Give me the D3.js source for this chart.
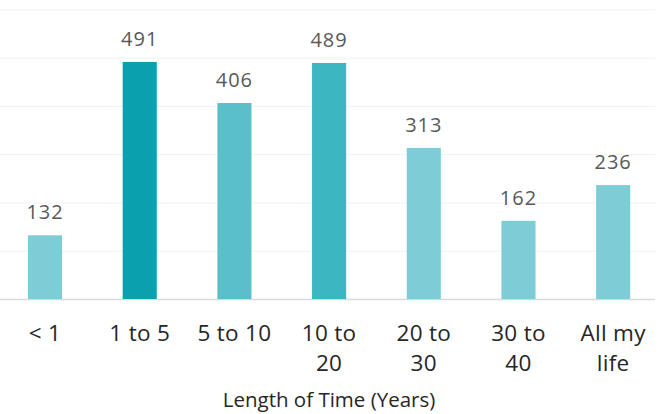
<!DOCTYPE html>
<html>
<head>
<meta charset="utf-8">
<script src="https://cdn.jsdelivr.net/npm/d3@7"></script>
<style>
  body { margin: 0; background: #fff; }
  text { font-family: "Open Sans", "Noto Sans", sans-serif; }
</style>
</head>
<body>
<svg id="chart"></svg>
<script>
// data
const categories = ["< 1", "1 to 5", "5 to 10", "10 to 20", "20 to 30", "30 to 40", "All my life"];
const counts = [132, 491, 406, 489, 313, 162, 236];
const yTicks = [0, 100, 200, 300, 400, 500, 600];
const xTitle = "Length of Time (Years)";

// one shade per bar, darker for the bigger ones
const barColors = ["#7dcdd6", "#0aa0ad", "#5bbfca", "#3cb6c0", "#7dcdd6", "#7dcdd6", "#7dcdd6"];

const width = 670, height = 414;
const plot = { left: 0, right: 655, top: 9.4, bottom: 299 };

const svg = d3.select("#chart").attr("width", width).attr("height", height);

const xScale = d3.scaleBand()
    .domain(categories)
    .range([-2.3, 660.5])
    .paddingInner(0.64)
    .paddingOuter(0.32);

const yScale = d3.scaleLinear()
    .domain([0, 600])
    .range([plot.bottom, plot.top]);

// gridlines
const grid = svg.append("g")
    .attr("transform", `translate(${plot.left},0)`)
    .call(d3.axisLeft(yScale).tickValues(yTicks).tickSize(-(plot.right - plot.left)).tickFormat(""));
grid.select(".domain").remove();
grid.selectAll(".tick line")
    .attr("stroke", d => d === 0 ? "#d9d9d9" : "#f1f1f1")
    .attr("stroke-width", d => d === 0 ? 1.5 : 1);

// bars
svg.append("g").selectAll("rect")
    .data(categories)
    .join("rect")
    .attr("x", d => xScale(d))
    .attr("y", (d, i) => yScale(counts[i]))
    .attr("width", xScale.bandwidth())
    .attr("height", (d, i) => yScale(0) - yScale(counts[i]))
    .attr("fill", (d, i) => barColors[i]);

// value labels
svg.append("g").selectAll("text")
    .data(categories)
    .join("text")
    .attr("x", d => xScale(d) + xScale.bandwidth() / 2)
    .attr("y", (d, i) => yScale(counts[i]) - 16)
    .attr("text-anchor", "middle")
    .style("font-size", "20px")
    .style("letter-spacing", "1px")
    .style("fill", "#595959")
    .text((d, i) => counts[i]);

// category axis
const xAxis = svg.append("g")
    .attr("transform", `translate(0,${plot.bottom})`)
    .call(d3.axisBottom(xScale).tickSize(0).tickPadding(0));
xAxis.select(".domain").remove();

xAxis.selectAll(".tick text")
    .style("font-size", "22.5px")
    .style("fill", "#262626")
    .style("letter-spacing", "0.3px")
    .each(function (d) {
        const t = d3.select(this);
        const words = d.split(" ");
        t.text(null);
        const lines = [];
        let cur = [];
        words.forEach(w => {
            const test = cur.concat(w).join(" ");
            t.text(test);
            if (this.getComputedTextLength() > 84 && cur.length) {
                lines.push(cur.join(" "));
                cur = [w];
            } else {
                cur.push(w);
            }
        });
        lines.push(cur.join(" "));
        t.text(null).attr("y", 0).attr("dy", null);
        lines.forEach((ln, i) => {
            t.append("tspan")
                .attr("x", 0)
                .attr("y", 42 + i * 30)
                .text(ln);
        });
    });

// axis title
svg.append("text")
    .attr("x", 329)
    .attr("y", 407)
    .attr("text-anchor", "middle")
    .style("font-size", "20.5px")
    .style("fill", "#262626")
    .text(xTitle);
</script>
</body>
</html>
